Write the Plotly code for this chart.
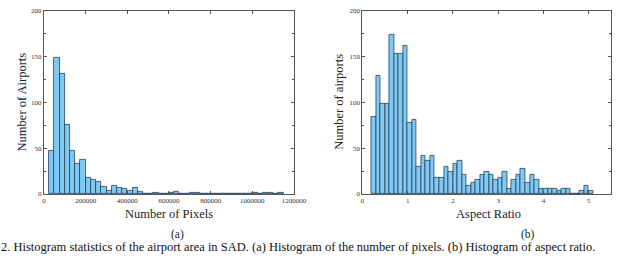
import plotly.graph_objects as go

# ---- Data (a): Number of pixels histogram ----
pix_bin_start = 25000
pix_bin_width = 25000
pix_counts = [47, 149, 131, 76, 47, 33, 37, 18, 15, 13, 8, 3, 9, 7, 6, 4, 7, 2,
              0, 0, 1, 0, 0, 1, 2, 0, 0, 1, 1, 0, 0, 0, 0, 0, 0, 0, 0, 0, 0,
              1, 0, 1, 1, 0, 1]

# ---- Data (b): Aspect ratio histogram ----
ar_bin_start = 0.2
ar_bin_width = 0.1
ar_counts = [84, 129, 99, 99, 174, 153, 153, 162, 78, 81, 30, 42, 36, 42, 18, 18,
             30, 24, 33, 36, 21, 9, 12, 15, 21, 24, 21, 15, 18, 24, 6, 15, 21, 27,
             12, 21, 15, 6, 6, 6, 6, 3, 6, 6, 0, 0, 3, 9, 3]

pix_x = [pix_bin_start + pix_bin_width * (i + 0.5) for i in range(len(pix_counts))]
ar_x = [ar_bin_start + ar_bin_width * (i + 0.5) for i in range(len(ar_counts))]

FILL = "#7fcaf5"
EDGE = "#2b3f55"
FONT = "Liberation Serif"

fig = go.Figure()
fig.add_trace(go.Bar(x=pix_x, y=pix_counts, width=pix_bin_width,
                     marker=dict(color=FILL, line=dict(color=EDGE, width=0.8)),
                     xaxis="x", yaxis="y", showlegend=False))
fig.add_trace(go.Bar(x=ar_x, y=ar_counts, width=ar_bin_width,
                     marker=dict(color=FILL, line=dict(color=EDGE, width=0.8)),
                     xaxis="x2", yaxis="y2", showlegend=False))

W, H = 640, 259
y_dom = [(H - 196) / H, (H - 7) / H]

axis_common = dict(showline=True, linecolor="#555", linewidth=1, mirror="ticks",
                   ticks="inside", ticklen=3, tickcolor="#555", showgrid=False,
                   zeroline=False, tickfont=dict(family=FONT, size=7, color="#333"))

fig.update_layout(
    width=W, height=H, margin=dict(l=0, r=0, t=0, b=0),
    paper_bgcolor="white", plot_bgcolor="white", bargap=0,
    font=dict(family=FONT, color="#222"),
    xaxis=dict(domain=[43 / W, 299 / W], range=[0, 1200000], dtick=200000,
               tickformat="d", anchor="y", **axis_common),
    yaxis=dict(domain=y_dom, range=[0, 200], dtick=50, anchor="x",
               minor=dict(dtick=25, ticks="inside", ticklen=2, tickcolor="#555"),
               **axis_common),
    xaxis2=dict(domain=[369 / W, 624 / W], range=[0, 5.5], dtick=1,
                anchor="y2", **axis_common),
    yaxis2=dict(domain=y_dom, range=[0, 200], dtick=50, anchor="x2",
                minor=dict(dtick=25, ticks="inside", ticklen=2, tickcolor="#555"),
                **axis_common),
)

def ann(text, x, y, size, angle=0, xanchor="center", yanchor="middle", color="#222"):
    fig.add_annotation(text=text, x=x / W, y=1 - y / H, xref="paper", yref="paper",
                       showarrow=False, textangle=angle, xanchor=xanchor,
                       yanchor=yanchor, borderpad=0,
                       font=dict(family=FONT, size=size, color=color))

ann("Number of Pixels", 171, 217, 12.5)
ann("Aspect Ratio", 498, 217, 12.5)
ann("Number of Airports", 20, 101, 12.5, angle=-90)
ann("Number of airports", 345, 101, 12.5, angle=-90)
ann("(a)", 180, 238, 11.5)
ann("(b)", 539, 238, 11.5)
ann("2. Histogram statistics of the airport area in SAD. (a) Histogram of the number of pixels. (b) Histogram of aspect ratio.",
    -2, 251, 12.5, xanchor="left", yanchor="middle", color="#111")

fig.write_html("out.html", config={"displayModeBar": False},
               post_script="document.body.style.margin='0';document.body.style.overflow='hidden';")
